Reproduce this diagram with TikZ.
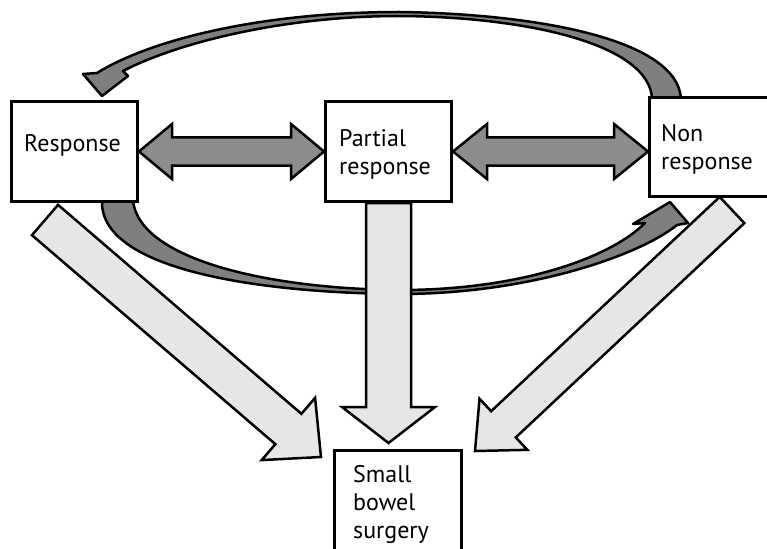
\documentclass[tikz,border=0pt]{standalone}
\usepackage{fontspec}
\setmainfont{PT Sans}
\usetikzlibrary{calc}
\definecolor{darkgr}{HTML}{7F7F7F}
\definecolor{midgr}{HTML}{8C8C8C}
\definecolor{lightgr}{HTML}{E6E6E6}
\tikzset{
  box/.style={draw=black, line width=3pt, fill=white, rectangle, inner sep=0pt},
  lbl/.style={anchor=base west, inner sep=0pt, align=left, font=\fontsize{24}{28}\selectfont},
  curv/.style={draw=black, line width=2.5pt, fill=darkgr, line join=round},
  dbl/.style={draw=black, line width=2.5pt, fill=midgr, line join=miter},
  light/.style={draw=black, line width=2.5pt, fill=lightgr, line join=miter},
}
% #1 style, #2 tail, #3 tip, #4 shaft half width, #5 head half width, #6 head length
\newcommand{\blockarrow}[6]{%
  \coordinate (ah) at ($(#3)!#6!(#2)$);
  \draw[#1] ($(#2)!#4!90:(#3)$) -- ($(ah)!#4!90:(#3)$) -- ($(ah)!#5!90:(#3)$) -- (#3)
    -- ($(ah)!#5!-90:(#3)$) -- ($(ah)!#4!-90:(#3)$) -- ($(#2)!#4!-90:(#3)$) -- cycle;}
\newcommand{\dblblockarrow}[6]{%
  \coordinate (ha) at ($(#2)!#6!(#3)$);
  \coordinate (hb) at ($(#3)!#6!(#2)$);
  \draw[#1] (#2) -- ($(ha)!#5!90:(#3)$) -- ($(ha)!#4!90:(#3)$) -- ($(hb)!#4!-90:(#2)$)
    -- ($(hb)!#5!-90:(#2)$) -- (#3) -- ($(hb)!#5!90:(#2)$) -- ($(hb)!#4!90:(#2)$)
    -- ($(ha)!#4!-90:(#3)$) -- ($(ha)!#5!-90:(#3)$) -- cycle;}
\begin{document}
\begin{tikzpicture}[x=1pt, y=-1pt]
\useasboundingbox (0,0) rectangle (767,548);
\clip (0,0) rectangle (767,548);
\fill[white] (0,0) rectangle (767,548);

% boxes (positions)
\path (74.5,151.5) node[box, minimum width=126pt, minimum height=100pt] (resp) {};
\path (388.5,151.5) node[box, minimum width=126pt, minimum height=100pt] (part) {};
\path (724,147) node[box, minimum width=149pt, minimum height=99pt] (non) {};
\path (398,524.5) node[box, minimum width=127pt, minimum height=148pt] (sbs) {};

% curved arrows (behind boxes)
\draw[curv] (681,99) .. controls (678,40) and (540,14) .. (400,12)
  .. controls (260,12) and (150,40) .. (97,73)
  -- (83,74) -- (102,96) -- (128,76) -- (123,71)
  .. controls (175,44) and (280,16) .. (400,16)
  .. controls (530,17) and (650,45) .. (652,99) -- cycle;
\draw[curv] (102,201) .. controls (100,270) and (260,293) .. (400,294)
  .. controls (530,294) and (640,255) .. (677,225)
  -- (688,223) -- (670,202) -- (633,224) -- (645,223)
  .. controls (610,258) and (520,290) .. (400,290)
  .. controls (270,289) and (140,260) .. (133,201) -- cycle;

% light arrows to surgery
\coordinate (t1) at (45,220);
\coordinate (e1) at (321,457);
\coordinate (e2) at (part.south |- 0,443);
\coordinate (t3) at (732,210);
\coordinate (e3) at (475,451);
\blockarrow{light}{t1}{e1}{20pt}{41pt}{43pt}
\blockarrow{light}{part.south}{e2}{22.5pt}{46.5pt}{36pt}
\blockarrow{light}{t3}{e3}{18pt}{35pt}{39pt}

% redraw boxes on top
\path (74.5,151.5) node[box, minimum width=126pt, minimum height=100pt] (resp) {};
\path (388.5,151.5) node[box, minimum width=126pt, minimum height=100pt] (part) {};
\path (724,147) node[box, minimum width=149pt, minimum height=99pt] (non) {};
\path (398,524.5) node[box, minimum width=127pt, minimum height=148pt] (sbs) {};

% double arrows
\coordinate (nw) at (non.west |- part.east);
\dblblockarrow{dbl}{resp.east}{part.west}{14pt}{27.5pt}{33pt}
\dblblockarrow{dbl}{part.east}{nw}{14pt}{27.5pt}{34pt}

% texts (anchored at the baseline of the last line)
\node[lbl] (resptxt) at (24,152) {Response};
\node[lbl] (parttxt) at (339,174) {Partial\\response};
\node[lbl] (nontxt) at (661,169) {Non\\response};
\node[lbl] (sbstxt) at (353,538) {Small\\bowel\\surgery};
\end{tikzpicture}
\end{document}
